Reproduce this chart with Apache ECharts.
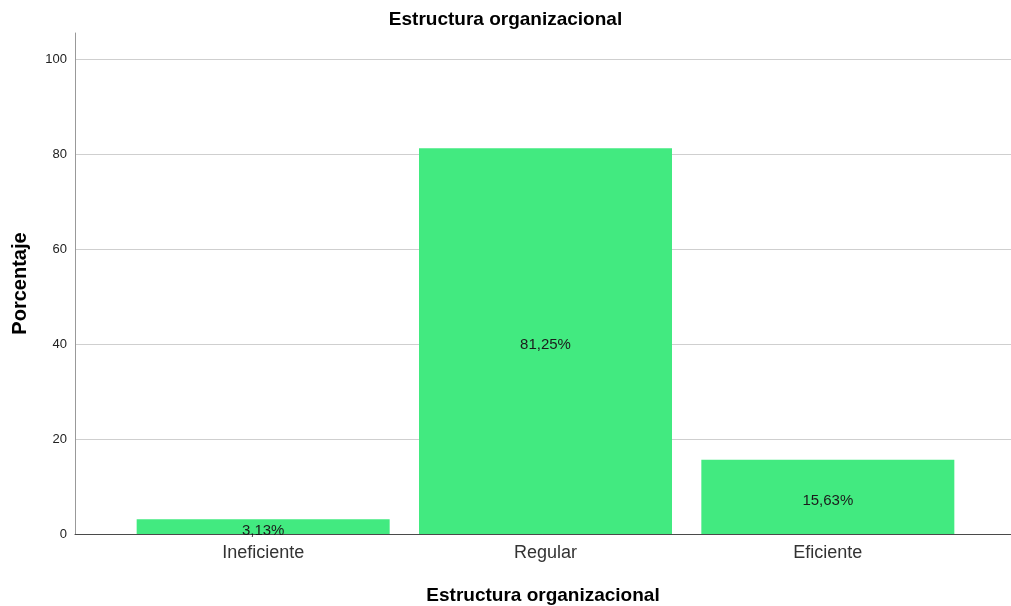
<!DOCTYPE html>
<html>
<head>
<meta charset="utf-8">
<script src="https://cdn.jsdelivr.net/npm/echarts@6/dist/echarts.min.js"></script>
<style>
html,body{margin:0;padding:0;background:#fff;}
#chart{width:1011px;height:606px;}
</style>
</head>
<body>
<div id="chart"></div>
<script>
const chartTitle = 'Estructura organizacional';
const categories = ['Ineficiente', 'Regular', 'Eficiente'];
const percentValues = [3.13, 81.25, 15.63];
const yAxisName = 'Porcentaje';
const xAxisName = 'Estructura organizacional';

const FONT = 'Liberation Sans, Arial, sans-serif';
const chart = echarts.init(document.getElementById('chart'), null, {renderer: 'canvas'});

const option = {
  backgroundColor: '#ffffff',
  animation: false,
  textStyle: {fontFamily: FONT},
  title: {
    text: chartTitle,
    left: 'center',
    top: 5,
    textStyle: {fontFamily: FONT, fontSize: 19, fontWeight: 'bold', color: '#000'}
  },
  grid: [
    {left: 75, right: 0, top: 33, bottom: 72, outerBoundsMode: 'none', containLabel: false},
    {left: 122, right: 42, top: 33, bottom: 72, outerBoundsMode: 'none', containLabel: false}
  ],
  xAxis: [
    {
      gridIndex: 0, type: 'category', data: [''],
      axisLine: {show: true, lineStyle: {color: '#4a4a4a', width: 1}},
      axisTick: {show: false}, axisLabel: {show: false}, splitLine: {show: false},
      name: xAxisName, nameLocation: 'middle', nameGap: 52,
      nameTextStyle: {fontFamily: FONT, fontSize: 19, fontWeight: 'bold', color: '#000'}
    },
    {
      gridIndex: 1, type: 'category', data: categories,
      axisLine: {show: false}, axisTick: {show: false},
      axisLabel: {fontFamily: FONT, fontSize: 18, color: '#333', margin: 10}
    }
  ],
  yAxis: [
    {
      gridIndex: 0, type: 'value', min: 0, max: 105.5, interval: 20,
      axisLine: {show: true, lineStyle: {color: '#999', width: 1}},
      axisTick: {show: false},
      axisLabel: {fontFamily: FONT, fontSize: 13, color: '#222', margin: 8, showMaxLabel: false},
      splitLine: {show: true, showMaxLine: false, lineStyle: {color: '#cfcfcf', width: 1}},
      name: yAxisName, nameLocation: 'middle', nameGap: 45,
      nameTextStyle: {fontFamily: FONT, fontSize: 20, fontWeight: 'bold', color: '#000'}
    },
    {
      gridIndex: 1, type: 'value', min: 0, max: 105.5, interval: 20, show: false
    }
  ],
  series: [
    {
      type: 'bar', xAxisIndex: 1, yAxisIndex: 1,
      data: percentValues,
      barWidth: 253,
      itemStyle: {color: '#42ea80'},
      label: {
        show: true, position: 'inside', offset: [0, 4],
        fontFamily: FONT, fontSize: 15, color: '#1b1b1b',
        formatter: p => p.value.toFixed(2).replace('.', ',') + '%'
      }
    }
  ]
};
chart.setOption(option);
</script>
</body>
</html>
